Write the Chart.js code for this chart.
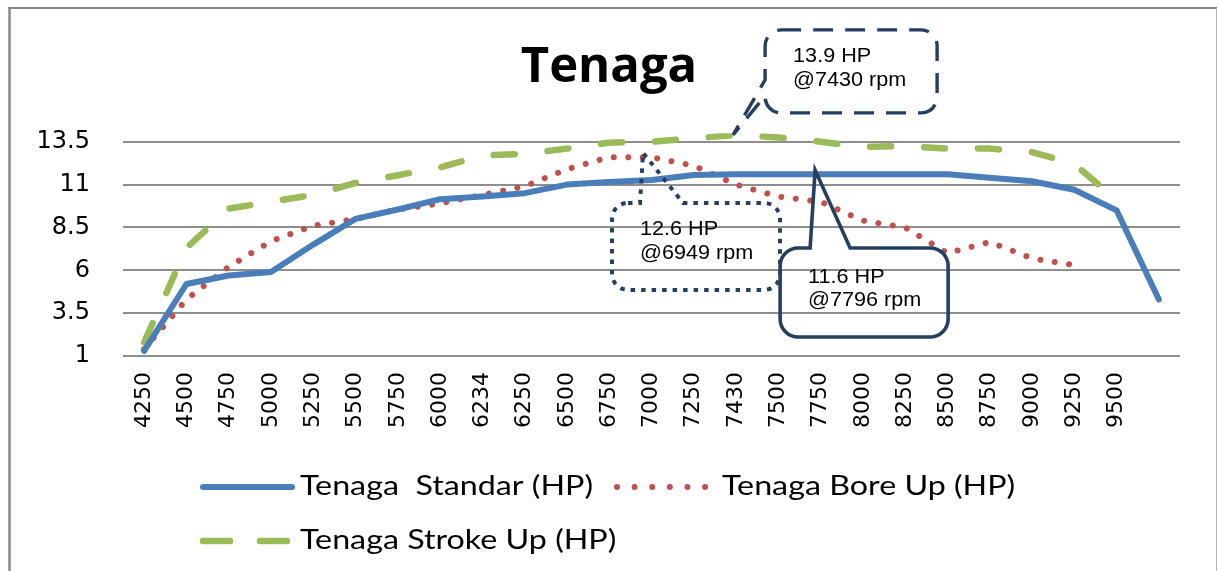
<!DOCTYPE html>
<html>
<head>
<meta charset="utf-8">
<script src="https://cdn.jsdelivr.net/npm/chart.js@4.4.1/dist/chart.umd.min.js"></script>
<style>
html,body{margin:0;padding:0;background:#fff;overflow:hidden}
#wrap{width:1218px;height:571px;position:relative}
</style>
</head>
<body>
<div id="wrap"><canvas id="c" width="1218" height="571"></canvas></div>
<script>
// ---- data ----
const categories = ['4250','4500','4750','5000','5250','5500','5750','6000','6234','6250','6500','6750','7000','7250','7430','7500','7750','8000','8250','8500','8750','9000','9250','9500',''];
const standarHP  = [1.3,5.2,5.7,5.9,7.5,9.0,9.55,10.15,10.3,10.5,11.0,11.15,11.27,11.56,11.6,11.6,11.6,11.6,11.6,11.6,11.4,11.2,10.7,9.5,4.3];
const boreUpHP   = [1.4,4.3,6.2,7.7,8.6,9.0,9.55,9.9,10.4,10.9,11.9,12.6,12.6,12.1,11.0,10.3,10.0,8.9,8.5,7.0,7.65,6.7,6.3,null,null];
const strokeUpHP = [1.8,7.3,9.6,10.0,10.4,11.1,11.55,12.0,12.7,12.8,13.1,13.45,13.5,13.7,13.9,13.75,13.5,13.2,13.25,13.1,13.1,12.9,12.2,10.1,null];
const seriesNames = ['Tenaga  Standar (HP)','Tenaga Bore Up (HP)','Tenaga Stroke Up (HP)'];
const yTicks = [1,3.5,6,8.5,11,13.5];
const chartTitle = 'Tenaga';
const calloutTexts = [['13.9 HP','@7430 rpm'],['12.6 HP','@6949 rpm'],['11.6 HP','@7796 rpm']];
// callout tips in data space: [category position (index), HP value]
const calloutTips = [[13.93,13.9],[11.8,12.85],[15.87,11.85]];

// ---- styles ----
const C_BLUE='#4A7EBB', C_RED='#C0504D', C_GREEN='#9BBB59', C_NAVY='#243F60';
const calloutStyles = [
  {dash:[20,12], width:3.4, dx:32, dy:-105, w:172, h:83, r:16, wedge:{side:'left', a:50, c:66}, tx:28, ty:[27,51]},
  {dash:[4.5,6], width:4, dx:-31, dy:50, w:168, h:87, r:16, wedge:{side:'top', a:28, c:71}, tx:28, ty:[27,51]},
  {dash:[], width:3.6, dx:-35, dy:78, w:168, h:89, r:18, wedge:{side:'top', a:30, c:70}, tx:28, ty:[29,52]}
];
const TEXT_STRETCH_LEGEND = 1.24;
const TEXT_STRETCH_CALLOUT = 1.08;

function calloutPath(ctx, b, r, wedge, tip){
  ctx.beginPath();
  ctx.moveTo(b.l + r, b.t);
  if (wedge.side === 'top'){
    ctx.lineTo(b.l + wedge.a, b.t); ctx.lineTo(tip.x, tip.y); ctx.lineTo(b.l + wedge.c, b.t);
  }
  ctx.lineTo(b.r - r, b.t);
  ctx.arcTo(b.r, b.t, b.r, b.t + r, r);
  ctx.lineTo(b.r, b.b - r);
  ctx.arcTo(b.r, b.b, b.r - r, b.b, r);
  ctx.lineTo(b.l + r, b.b);
  ctx.arcTo(b.l, b.b, b.l, b.b - r, r);
  if (wedge.side === 'left'){
    ctx.lineTo(b.l, b.t + wedge.c); ctx.lineTo(tip.x, tip.y); ctx.lineTo(b.l, b.t + wedge.a);
  }
  ctx.lineTo(b.l, b.t + r);
  ctx.arcTo(b.l, b.t, b.l + r, b.t, r);
  ctx.closePath();
}

function stretchedText(ctx, text, x, y, sx){
  ctx.save();
  ctx.translate(x, y);
  ctx.scale(sx, 1);
  ctx.fillText(text, 0, 0);
  ctx.restore();
}

const framePlugin = {
  id:'frame',
  beforeDraw(chart){
    const ctx = chart.ctx;
    ctx.save();
    ctx.fillStyle = '#fff';
    ctx.fillRect(0,0,chart.width,chart.height);
    ctx.strokeStyle = '#8a8a8a';
    ctx.lineWidth = 2;
    ctx.beginPath(); ctx.moveTo(8,8); ctx.lineTo(1217,8); ctx.stroke();
    ctx.lineWidth = 2.5;
    ctx.beginPath(); ctx.moveTo(9.5,8); ctx.lineTo(9.5,chart.height); ctx.stroke();
    ctx.strokeStyle = '#b5b5b5'; ctx.lineWidth = 1;
    ctx.beginPath(); ctx.moveTo(1216.5,8); ctx.lineTo(1216.5,chart.height); ctx.stroke();
    ctx.restore();
  }
};

const calloutPlugin = {
  id:'callouts',
  afterDatasetsDraw(chart){
    const ctx = chart.ctx, xs = chart.scales.x, ys = chart.scales.y;
    ctx.save();
    calloutTips.forEach((t, i) => {
      const s = calloutStyles[i];
      const tip = {x: xs.getPixelForValue(t[0]), y: ys.getPixelForValue(t[1])};
      const b = {l: tip.x + s.dx, t: tip.y + s.dy};
      b.r = b.l + s.w; b.b = b.t + s.h;
      ctx.strokeStyle = C_NAVY; ctx.lineWidth = s.width;
      ctx.setLineDash(s.dash); ctx.lineCap = 'butt'; ctx.lineJoin = 'miter';
      calloutPath(ctx, b, s.r, s.wedge, tip);
      ctx.stroke();
      ctx.setLineDash([]);
      ctx.fillStyle = '#000';
      ctx.font = '20px "Liberation Sans", Arial, sans-serif';
      ctx.textBaseline = 'middle'; ctx.textAlign = 'left';
      calloutTexts[i].forEach((line, k) => stretchedText(ctx, line, b.l + s.tx, b.t + s.ty[k], TEXT_STRETCH_CALLOUT));
    });
    ctx.restore();
  }
};

const legendPlugin = {
  id:'customLegend',
  afterDraw(chart){
    const ctx = chart.ctx, ds = chart.data.datasets;
    const items = [
      {d:0, x0:203, x1:292, y:487, dash:[], sx:300},
      {d:1, x0:617, x1:708, y:487, dash:[0.01,17.6], sx:722},
      {d:2, x0:203, x1:295, y:541, dash:[27,30], sx:300}
    ];
    ctx.save();
    items.forEach(it => {
      const d = ds[it.d];
      ctx.strokeStyle = d.borderColor; ctx.lineWidth = d.borderWidth;
      ctx.lineCap = 'round'; ctx.setLineDash(it.dash);
      ctx.beginPath(); ctx.moveTo(it.x0, it.y); ctx.lineTo(it.x1, it.y); ctx.stroke();
      ctx.setLineDash([]);
      ctx.fillStyle = '#000';
      ctx.font = '26px Lato, "Open Sans", sans-serif';
      ctx.textBaseline = 'middle'; ctx.textAlign = 'left';
      stretchedText(ctx, d.label, it.sx, it.y, TEXT_STRETCH_LEGEND);
    });
    ctx.restore();
  }
};

new Chart(document.getElementById('c').getContext('2d'), {
  type:'line',
  data:{
    labels: categories,
    datasets:[
      {label:seriesNames[0], data:standarHP, borderColor:C_BLUE, backgroundColor:C_BLUE, borderWidth:6, pointRadius:0, tension:0, borderJoinStyle:'round', borderCapStyle:'round'},
      {label:seriesNames[1], data:boreUpHP, borderColor:C_RED, backgroundColor:C_RED, borderWidth:6, borderDash:[0.01,14.5], borderCapStyle:'round', pointRadius:0, tension:0},
      {label:seriesNames[2], data:strokeUpHP, borderColor:C_GREEN, backgroundColor:C_GREEN, borderWidth:6.5, borderDash:[21,33], borderCapStyle:'round', borderJoinStyle:'round', pointRadius:0, tension:0}
    ]
  },
  options:{
    responsive:false, animation:false, devicePixelRatio:1,
    layout:{padding:{left:0,right:0,top:0,bottom:0}},
    plugins:{
      legend:{display:false},
      tooltip:{enabled:false},
      title:{display:true, text:chartTitle, color:'#000',
        font:{family:'"Open Sans", sans-serif', weight:'bold', size:49, lineHeight:1.2},
        padding:{top:38.5, bottom:35.9}}
    },
    scales:{
      x:{type:'category', offset:true,
        grid:{display:false, drawTicks:false}, border:{display:false},
        ticks:{minRotation:90, maxRotation:90, autoSkip:false, color:'#000', padding:16,
          font:{family:'"DejaVu Sans", sans-serif', size:22}},
        afterFit(s){ s.height = 215; }
      },
      y:{min:1, max:14, position:'left',
        grid:{color:'#8e8e8e', lineWidth:2, drawTicks:false}, border:{display:false},
        ticks:{color:'#000', padding:33, font:{family:'"DejaVu Sans", sans-serif', size:24}},
        afterBuildTicks(s){ s.ticks = yTicks.map(v => ({value:v})); },
        afterFit(s){ s.width = 123; }
      },
      yR:{position:'right', display:true, min:0, max:1,
        grid:{display:false, drawTicks:false}, border:{display:false}, ticks:{display:false},
        afterFit(s){ s.width = 38; }
      }
    }
  },
  plugins:[framePlugin, calloutPlugin, legendPlugin]
});
</script>
</body>
</html>
